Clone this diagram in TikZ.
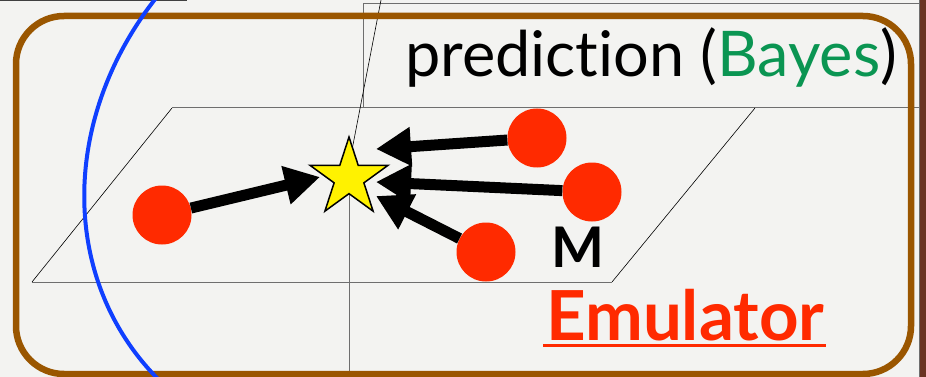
\documentclass[tikz,border=0pt]{standalone}
\usepackage{fontspec}
\setmainfont{Lato}[Ligatures=NoCommon]
\usetikzlibrary{arrows.meta,shapes.geometric}
\definecolor{paper}{HTML}{F3F3F1}
\definecolor{framebrown}{HTML}{9A5600}
\definecolor{edgebrown}{HTML}{6B3322}
\definecolor{dotred}{HTML}{FF2A00}
\definecolor{bayesgreen}{HTML}{0A9552}
\definecolor{curveblue}{HTML}{0F3FFF}
\definecolor{rulegray}{HTML}{6E6E6E}
\tikzset{
  dot/.style={circle, fill=dotred, minimum size=59pt, inner sep=0pt},
  arr/.style={line width=11pt, -{Triangle[length=35pt,width=37pt]}},
  thinrule/.style={rulegray, line width=1pt},
  hairline/.style={black, line width=0.6pt},
  label/.style={anchor=base west, inner sep=0pt}
}
\begin{document}
\begin{tikzpicture}[x=1pt,y=-1pt]
\useasboundingbox (0,0) rectangle (926,377);
\fill[paper] (0,0) rectangle (926,377);
% page edge
\fill[edgebrown] (920,0) rectangle (926,377);
\draw[rulegray, line width=0.6pt] (919.5,0) -- (919.5,377);
% top-left rule
\draw[black!75, line width=2pt] (0,0.5) -- (187,0.5);
% upper right box
\draw[thinrule] (363,4) -- (919,4);
\draw[thinrule] (363,4) -- (363,108);
\draw[thinrule] (363,108) -- (919,108);
% parallelogram
\draw[thinrule] (172,108) -- (755,108);
\draw[thinrule] (32,282) -- (612,282);
\draw[hairline] (32,282) -- (172,108);
\draw[hairline] (612,282) -- (755,108);
% vertical and slanted lines through the star
\draw[rulegray, line width=0.8pt] (349,180) -- (349,377);
\draw[hairline] (381,0) -- (352,150);
% brown frame
\draw[framebrown, line width=6.5pt, rounded corners=48pt]
  (16,16) rectangle (911,374);
% blue curve
\draw[curveblue, line width=4pt] (156,-2) .. controls (60,120) and (60,280) .. (158,379);
% star and dots
\node[star, star points=5, star point ratio=2.618, minimum size=82pt, inner sep=0pt,
      fill=yellow, draw=black, line width=1.5pt] (star) at (349,178) {};
\node[dot] (c1) at (162,215) {};
\node[dot] (c2) at (537,138) {};
\node[dot] (c3) at (592,192) {};
\node[dot] (c4) at (486,252) {};
\coordinate (tA) at (320,177);
\coordinate (tB) at (376,149);
\coordinate (tC) at (376,182);
\coordinate (tD) at (376,196);
\draw[arr] (c1) -- (tA);
\draw[arr] (c2) -- (tB);
\draw[arr] (c3) -- (tC);
\draw[arr] (c4) -- (tD);
% texts
\node[label, font=\fontsize{63}{63}\selectfont] (pred) at (405,77)
  {prediction (\textcolor{bayesgreen}{Bayes})};
\node[label, font=\fontsize{56}{56}\selectfont\bfseries] (M) at (551,267) {M};
\node[label, font=\fontsize{69}{69}\selectfont\bfseries, text=dotred] (emu) at (546,340) {Emulator};
\draw[dotred, line width=3pt] ([xshift=-3pt,yshift=-5pt]emu.base west) -- ([xshift=2pt,yshift=-5pt]emu.base east);
\end{tikzpicture}
\end{document}
